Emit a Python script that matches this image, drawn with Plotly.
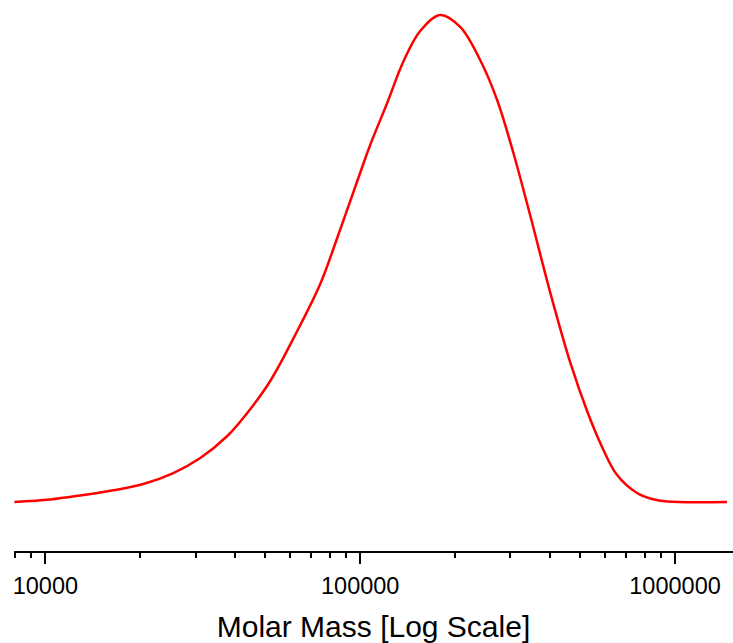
import plotly.graph_objects as go
import math

# Molar mass (g/mol) and normalized distribution value
molar_mass = [7973, 10372, 13203, 16681, 20470, 25489, 31050, 37827, 43780, 51797,
              63096, 74649, 84524, 96410, 107580, 121820, 136940, 155050, 179460,
              207710, 240410, 272220, 305990, 346480, 401030, 464160, 525580,
              586470, 654430, 757470, 845240, 943190, 1462500]
distribution = [0.000, 0.0051, 0.0144, 0.0246, 0.0370, 0.0595, 0.0903, 0.1355, 0.1828,
                0.2485, 0.3511, 0.4476, 0.5421, 0.6468, 0.7331, 0.8193, 0.9035, 0.9671,
                1.000, 0.9754, 0.9076, 0.8255, 0.7187, 0.5893, 0.4312, 0.2875, 0.1869,
                0.1129, 0.0554, 0.0185, 0.0062, 0.0010, 0.000]

major_ticks = [10000, 100000, 1000000]
major_labels = ["10000", "100000", "1000000"]
minor_ticks = [m * d for d in (1000, 10000, 100000) for m in range(2, 10)]

fig = go.Figure()
fig.add_trace(go.Scatter(
    x=molar_mass, y=distribution, mode="lines",
    line=dict(color="#FF0000", width=2.5, shape="spline", smoothing=1.0),
    hoverinfo="skip", showlegend=False,
))

fig.update_layout(
    width=733, height=643,
    margin=dict(l=14, r=0, t=0, b=92),
    paper_bgcolor="white", plot_bgcolor="white",
    font=dict(family="Arial, Liberation Sans, sans-serif", color="black"),
)
fig.update_xaxes(
    type="log",
    range=[math.log10(7950), math.log10(1528000)],
    showgrid=False, zeroline=False,
    showline=True, linecolor="black", linewidth=2,
    ticks="outside", ticklen=11, tickwidth=1.5, tickcolor="black",
    tickmode="array", tickvals=major_ticks, ticktext=major_labels,
    tickfont=dict(size=23.5, color="black"), ticklabelstandoff=2,
    minor=dict(tickmode="array", tickvals=minor_ticks, ticks="outside",
               ticklen=5, tickwidth=1.5, tickcolor="black", showgrid=False),
    title=dict(text="Molar Mass [Log Scale]", font=dict(size=30, color="black"), standoff=22),
)
fig.update_yaxes(
    visible=False, range=[-0.1006, 1.0308], showgrid=False, zeroline=False,
)

fig.write_html("out.html")
